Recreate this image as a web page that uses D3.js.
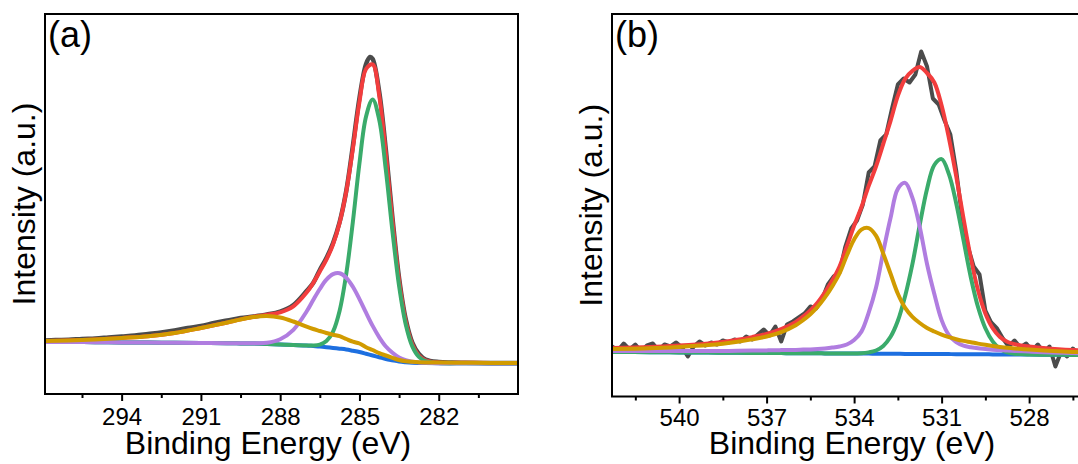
<!DOCTYPE html>
<html><head><meta charset="utf-8">
<script src="https://cdn.jsdelivr.net/npm/d3@7"></script>
<style>
body{margin:0;background:#fff}
svg{display:block}
text{font-family:"Liberation Sans",Arial,Helvetica,sans-serif;fill:#000}
</style>
</head><body>
<svg id="c" width="1078" height="464"></svg>
<script>
// ---------- Panel (a): C 1s ----------
const aTicks = [294, 291, 288, 285, 282];
const aMinor = [295.5, 292.5, 289.5, 286.5, 283.5, 280.5];
const aFitE = [297, 296, 295, 294, 293, 292, 291, 290, 289.5, 289, 288.5, 288, 287.5, 287, 286.75, 286.5, 286.25, 286, 285.75, 285.5, 285.25, 285, 284.75, 284.5, 284.25, 284, 283.75, 283.5, 283.25, 283, 282.75, 282.5, 282, 281, 280, 279];
const aBackground = [52, 52, 51.8, 51.6, 51.4, 51.2, 51, 50.8, 50.6, 50.5, 50, 49.5, 49, 48.5, 48, 47.5, 46.8, 46, 45.3, 44.5, 43.3, 42, 40.3, 38.5, 36.8, 35, 33.7, 32.5, 31.8, 31.3, 31.1, 31, 30.8, 30.7, 30.6, 30.5];
const aPeakCC = [52, 52, 51.8, 51.6, 51.4, 51.2, 51, 50.8, 50.6, 50.5, 50, 49.5, 49, 48.6, 48.5, 49.4, 52.9, 62.4, 83.3, 120, 172, 230.7, 277.5, 294.5, 274, 223.7, 162.5, 108, 69.8, 47.7, 37.2, 32.9, 30.9, 30.7, 30.6, 30.5];
const aPeakCO = [52, 52, 51.8, 51.6, 51.4, 51.2, 51, 50.8, 50.7, 50.8, 51.2, 54.7, 64.2, 82.5, 94, 105, 114.3, 119.8, 120.7, 116.3, 107.2, 94.9, 81.3, 68.1, 56.7, 47.5, 41.2, 36.5, 33.8, 32.3, 31.6, 31.2, 30.8, 30.7, 30.6, 30.5];
const aPeakOCO = [53, 53.5, 54.5, 56, 57.8, 61, 66, 71.5, 74.5, 77, 78, 76.5, 72.5, 67.3, 65, 63, 61, 59.3, 57.8, 55, 52.3, 50.5, 46.8, 44, 40.8, 38.5, 36.2, 34, 32.8, 32.2, 31.8, 31.6, 31.4, 31.2, 31, 31];
const aEnvelope = [53, 53.5, 54.5, 56, 57.8, 61, 66, 71.5, 74.6, 77.3, 79.2, 81.7, 87.7, 101.4, 111, 122.4, 134.4, 149.5, 171.2, 202.3, 245, 292.1, 325, 329.6, 298, 239.7, 172.5, 113.5, 72.8, 49.6, 38.3, 33.7, 31.4, 31.2, 31, 31];
const aRawE = [297, 296.5, 296, 295.5, 295, 294.5, 294, 293.5, 293, 292.5, 292, 291.5, 291, 290.5, 290, 289.5, 289, 288.5, 288, 287.5, 287, 286.75, 286.5, 286.25, 286, 285.75, 285.5, 285.25, 285, 284.75, 284.6, 284.5, 284.25, 284, 283.75, 283.5, 283.25, 283, 282.75, 282.5, 282, 281.5, 281, 280, 279];
const aRaw = [53.5, 54, 54.2, 55, 55.5, 56.5, 57.5, 58.5, 60, 61.5, 63.5, 66, 68, 71, 73.5, 76, 77.5, 79.5, 82.5, 89, 103, 111, 124, 136, 151, 172, 203, 248, 296, 330, 337, 335, 302, 244, 176, 116, 75, 51.5, 40, 34.5, 32, 31.5, 31.3, 31, 31];

// ---------- Panel (b): O 1s ----------
const bTicks = [540, 537, 534, 531, 528];
const bMinor = [541.5, 538.5, 535.5, 532.5, 529.5, 526.5];
const bFitE = [542.3, 541, 540, 539, 538.5, 538, 537.5, 537, 536.5, 536, 535.75, 535.5, 535.25, 535, 534.75, 534.5, 534.25, 534, 533.75, 533.5, 533.25, 533, 532.75, 532.5, 532.25, 532, 531.75, 531.5, 531.25, 531, 530.75, 530.5, 530.25, 530, 529.75, 529.5, 529.25, 529, 528.75, 528.5, 528, 527.5, 527, 526.5, 525.8];
const bBackground = [44.5, 44.3, 44.1, 43.9, 43.8, 43.7, 43.6, 43.5, 43.4, 43.3, 43.3, 43.2, 43.2, 43.1, 43.1, 43, 43, 43, 42.9, 42.9, 42.8, 42.8, 42.7, 42.7, 42.6, 42.6, 42.5, 42.5, 42.5, 42.4, 42.4, 42.3, 42.3, 42.3, 42.2, 42.2, 42.1, 42.1, 42, 42, 41.9, 41.8, 41.7, 41.6, 41.5];
const bPeakOH = [47.5, 48.3, 49.6, 51.4, 52.8, 54.7, 57.1, 60, 64.4, 71.3, 76.3, 82.2, 89.7, 99.1, 110.1, 123, 141, 157, 166.9, 168.4, 160.8, 142.8, 122.7, 102.7, 88.6, 79.6, 73.5, 68.5, 65, 61.9, 59.4, 57.3, 55.6, 54.3, 52.9, 51.7, 50.6, 49.6, 48.7, 48, 46.9, 46, 45.2, 44.6, 44];
const bPeakOV = [45.5, 45.4, 45.4, 45.4, 45.5, 45.7, 45.9, 46.1, 46.4, 46.6, 46.9, 47.1, 47.5, 48.1, 48.9, 50, 52, 56.5, 64.9, 83.9, 108.8, 144.8, 178.7, 207.7, 213.6, 198.6, 169.5, 132.5, 102.5, 76.4, 61.4, 54.3, 50.8, 49.3, 48.2, 47.5, 46.8, 46.4, 45.9, 45.6, 44.9, 44.3, 43.8, 43.4, 43];
const bPeakOL = [44.5, 44.3, 44.1, 43.9, 43.8, 43.7, 43.6, 43.5, 43.4, 43.3, 43.3, 43.2, 43.2, 43.1, 43.1, 43, 43, 43.1, 43.2, 44.1, 46, 50.6, 59.7, 75.7, 100.6, 132.6, 171.5, 207.5, 231.5, 237.4, 222.4, 193.3, 156.3, 119.3, 89.2, 68.2, 55.1, 47.7, 44.2, 42.8, 42, 41.8, 41.7, 41.6, 41.5];
const bEnvelope = [48.5, 49.4, 50.9, 52.9, 54.5, 56.7, 59.4, 62.6, 67.4, 74.6, 79.9, 86.1, 94, 104.1, 115.9, 130, 150, 170.6, 189.2, 210.6, 230, 252.6, 275.7, 300.7, 317.6, 325.6, 329.5, 323.5, 314, 290.9, 258.4, 220.3, 178.1, 138.3, 105.9, 83, 68.3, 59.5, 54.8, 52.4, 50, 48.5, 47.3, 46.4, 45.5];
const bRawE = [542.3, 542.1, 541.9, 541.7, 541.5, 541.3, 541.1, 540.9, 540.7, 540.5, 540.3, 540.1, 539.9, 539.7, 539.5, 539.3, 539.1, 538.9, 538.7, 538.5, 538.3, 538.1, 537.9, 537.7, 537.5, 537.3, 537.1, 536.9, 536.7, 536.5, 536.3, 536.1, 535.9, 535.7, 535.5, 535.3, 535.1, 534.9, 534.7, 534.5, 534.3, 534.1, 533.9, 533.7, 533.5, 533.3, 533.1, 532.9, 532.7, 532.5, 532.3, 532.1, 531.9, 531.7, 531.5, 531.3, 531.1, 530.9, 530.7, 530.5, 530.3, 530.1, 529.9, 529.7, 529.5, 529.3, 529.1, 528.9, 528.7, 528.5, 528.3, 528.1, 527.9, 527.7, 527.5, 527.3, 527.1, 526.9, 526.7, 526.5, 526.3, 526.1, 525.9];
const bRaw = [50, 46, 53, 47, 52, 45, 51, 53, 46, 52, 50, 54, 49, 40, 50, 55, 51, 54, 52, 56, 54, 57, 55, 60, 57, 62, 67, 61, 70, 55, 72, 75, 79, 83, 90, 88, 97, 112, 120, 124, 150, 168, 176, 192, 224, 230, 256, 262, 288, 312, 318, 314, 322, 345, 330, 298, 292, 276, 262, 226, 180, 150, 130, 122, 86, 74, 68, 58, 50, 56, 49, 53, 46, 52, 44, 50, 30, 45, 40, 48, 42, 47, 45];

// ---------- text ----------
const xTitle = "Binding Energy (eV)";
const yTitle = "Intensity (a.u.)";

const colors = {raw: "#4b4b4b", env: "#f23d3d", bg: "#1d6fe0", p1: "#3aab6b", p2: "#b07de0", p3: "#d19b00"};

const svg = d3.select("#c");

function panel(cfg) {
  const x = d3.scaleLinear().domain(cfg.xDomain).range([cfg.left, cfg.right]);
  const y = d3.scaleLinear().domain([0, cfg.yMax]).range([cfg.bottom, cfg.top]);
  const g = svg.append("g");
  const clipId = "clip" + cfg.id;
  g.append("clipPath").attr("id", clipId).append("rect")
    .attr("x", cfg.left).attr("y", cfg.top)
    .attr("width", cfg.right - cfg.left).attr("height", cfg.bottom - cfg.top);
  const plot = g.append("g").attr("clip-path", `url(#${clipId})`);

  cfg.series.forEach(s => {
    const pts = s.E.map((e, i) => [e, s.v[i]]);
    const line = d3.line().x(d => x(d[0])).y(d => y(d[1]))
      .curve(s.smooth ? d3.curveCatmullRom.alpha(0.5) : d3.curveLinear);
    plot.append("path").datum(pts).attr("d", line)
      .attr("fill", "none").attr("stroke", s.color).attr("stroke-width", s.w)
      .attr("stroke-linejoin", "round").attr("stroke-linecap", "round");
  });

  // frame
  g.append("rect").attr("x", cfg.left).attr("y", cfg.top)
    .attr("width", cfg.right - cfg.left).attr("height", cfg.bottom - cfg.top)
    .attr("fill", "none").attr("stroke", "#000").attr("stroke-width", 2);

  // major ticks + labels
  const ax = g.append("g").attr("transform", `translate(0,${cfg.bottom})`)
    .call(d3.axisBottom(x).tickValues(cfg.majors).tickSize(7).tickPadding(cfg.pad).tickFormat(d3.format("d")));
  ax.select(".domain").remove();
  ax.selectAll(".tick line").attr("stroke", "#000").attr("stroke-width", 2);
  ax.selectAll(".tick text").attr("font-size", 24).attr("font-family", '"Liberation Sans",Arial,sans-serif').attr("fill", "#000");
  // minor ticks
  const mx = g.append("g").attr("transform", `translate(0,${cfg.bottom})`)
    .call(d3.axisBottom(x).tickValues(cfg.minors).tickSize(4).tickFormat(""));
  mx.select(".domain").remove();
  mx.selectAll(".tick line").attr("stroke", "#000").attr("stroke-width", 2);

  // titles
  g.append("text").attr("x", cfg.xTitleX).attr("y", 454).attr("text-anchor", "middle")
    .attr("font-size", 32).text(xTitle);
  g.append("text").attr("transform", `translate(${cfg.yTitleX},${(cfg.top + cfg.bottom) / 2}) rotate(-90)`)
    .attr("text-anchor", "middle").attr("font-size", 32).text(yTitle);
  g.append("text").attr("x", cfg.left + 3).attr("y", 47).attr("font-size", 36).text(cfg.label);
}

panel({
  id: "a", left: 45, right: 518, top: 14, bottom: 394, xDomain: [296.9, 279.0], yMax: 380,
  majors: aTicks, minors: aMinor, pad: 6.5, label: "(a)", xTitleX: 268, yTitleX: 35,
  series: [
    {E: aRawE, v: aRaw, color: colors.raw, w: 4.5, smooth: true},
    {E: aFitE, v: aEnvelope, color: colors.env, w: 4, smooth: true},
    {E: aFitE, v: aBackground, color: colors.bg, w: 4, smooth: true},
    {E: aFitE, v: aPeakCC, color: colors.p1, w: 4, smooth: true},
    {E: aFitE, v: aPeakCO, color: colors.p2, w: 4, smooth: true},
    {E: aFitE, v: aPeakOCO, color: colors.p3, w: 4, smooth: true}
  ]
});

panel({
  id: "b", left: 612, right: 1093.3, top: 14, bottom: 396.5, xDomain: [542.3, 525.8], yMax: 382.5,
  majors: bTicks, minors: bMinor, pad: 5.5, label: "(b)", xTitleX: 852, yTitleX: 602,
  series: [
    {E: bRawE, v: bRaw, color: colors.raw, w: 4, smooth: false},
    {E: bFitE, v: bEnvelope, color: colors.env, w: 4, smooth: true},
    {E: bFitE, v: bBackground, color: colors.bg, w: 4, smooth: true},
    {E: bFitE, v: bPeakOL, color: colors.p1, w: 4, smooth: true},
    {E: bFitE, v: bPeakOV, color: colors.p2, w: 4, smooth: true},
    {E: bFitE, v: bPeakOH, color: colors.p3, w: 4, smooth: true}
  ]
});
</script>
</body></html>
